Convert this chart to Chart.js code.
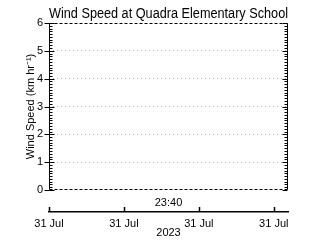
<!DOCTYPE html>
<html>
<head>
<meta charset="utf-8">
<script src="https://cdn.jsdelivr.net/npm/chart.js@4"></script>
<style>
  html, body { margin: 0; padding: 0; background: #fff; }
  #wrap { width: 320px; height: 240px; }
</style>
</head>
<body>
<div id="wrap"><canvas id="grafico"></canvas></div>
<script>
// ===== dados =====
const titulo = 'Wind Speed at Quadra Elementary School';
const tituloY = 'Wind Speed (km hr\u207B\u00B9)';
const yTicks = [0, 1, 2, 3, 4, 5, 6];
const horaTicks = ['23:40'];
const dataTicks = ['31 Jul', '31 Jul', '31 Jul', '31 Jul'];
const ano = '2023';
const velocidade = []; // sem dados no periodo

const fonte = "'Liberation Sans', Arial, sans-serif";

// ===== bordas tracejadas + ticks menores / maiores =====
const ticksPlugin = {
  id: 'ticksExtra',
  afterDraw(chart) {
    const c = chart.ctx;
    const y = chart.scales.y, x2 = chart.scales.x2;
    const area = chart.chartArea;
    const esq = Math.round(area.left) + 0.5, dir = Math.round(area.right) - 0.5;
    const topo = Math.round(area.top) + 0.5, base = Math.round(area.bottom) - 0.5;
    c.save();
    c.strokeStyle = '#000';
    c.lineWidth = 1;

    // topo e base tracejados
    c.setLineDash([3, 2]);
    c.beginPath();
    c.moveTo(esq, topo); c.lineTo(dir, topo);
    c.moveTo(esq, base); c.lineTo(dir, base);
    c.stroke();
    c.setLineDash([]);

    // laterais solidas com ticks
    c.beginPath();
    c.moveTo(esq, topo); c.lineTo(esq, base);
    c.moveTo(dir, topo); c.lineTo(dir, base);
    for (let i = 0; i <= 60; i++) {
      const py = Math.round(y.getPixelForValue(i / 10)) + 0.5;
      const maior = i % 10 === 0;
      c.moveTo(esq - (maior ? 5 : 0), py);
      c.lineTo(esq + (maior ? 5 : 3), py);
      c.moveTo(dir - (maior ? 5 : 3), py);
      c.lineTo(dir, py);
    }
    c.stroke();

    // ticks do eixo de datas
    c.lineWidth = 1.5;
    c.beginPath();
    dataTicks.forEach((_, i) => {
      const px = Math.round(x2.getPixelForValue(i)) + 0.5;
      c.moveTo(px, x2.top);
      c.lineTo(px, x2.top - 5);
    });
    c.stroke();
    c.restore();
  }
};

const ctx = document.getElementById('grafico');

new Chart(ctx, {
  type: 'scatter',
  data: {
    datasets: [{
      data: velocidade,
      xAxisID: 'x',
      yAxisID: 'y',
      borderColor: '#000',
      pointRadius: 0
    }]
  },
  plugins: [ticksPlugin],
  options: {
    responsive: true,
    maintainAspectRatio: false,
    animation: false,
    layout: { padding: 0 },
    plugins: {
      legend: { display: false },
      tooltip: { enabled: false },
      title: {
        display: true,
        fullSize: false,
        text: titulo,
        color: '#000',
        font: { family: fonte, size: 14, weight: 'normal' },
        padding: { top: 5.6, bottom: 0.6 }
      }
    },
    scales: {
      y: {
        position: 'left',
        min: 0,
        max: 6,
        afterFit: s => { s.width = 49; },
        afterBuildTicks: s => { s.ticks = yTicks.map(v => ({ value: v })); },
        ticks: {
          color: '#000',
          padding: 6,
          font: { family: fonte, size: 11 }
        },
        grid: {
          drawTicks: false,
          color: c => (c.tick && (c.tick.value === 0 || c.tick.value === 6)) ? 'rgba(0,0,0,0)' : '#b4b4b4',
          lineWidth: 1
        },
        border: { display: false, dash: [1, 3] },
        title: {
          display: true,
          text: tituloY,
          color: '#000',
          font: { family: fonte, size: 11 },
          padding: { top: 24, bottom: 0 }
        }
      },
      y2: {
        position: 'right',
        min: 0,
        max: 6,
        afterFit: s => { s.width = 32; },
        ticks: { display: false },
        grid: { display: false, drawTicks: false },
        border: { display: false }
      },
      x: {
        type: 'linear',
        position: 'bottom',
        min: 0,
        max: 1,
        afterFit: s => { s.height = 22; },
        afterBuildTicks: s => { s.ticks = horaTicks.map(() => ({ value: 0.5 })); },
        ticks: {
          color: '#000',
          padding: 6,
          maxRotation: 0,
          autoSkip: false,
          font: { family: fonte, size: 11 },
          callback: (v, i) => horaTicks[i]
        },
        grid: { display: false, drawTicks: false },
        border: { display: false }
      },
      x2: {
        type: 'linear',
        position: 'bottom',
        min: 0,
        max: 3.19,
        afterFit: s => { s.height = 28; },
        afterBuildTicks: s => { s.ticks = dataTicks.map((_, i) => ({ value: i })); },
        ticks: {
          color: '#000',
          padding: 5,
          maxRotation: 0,
          autoSkip: false,
          font: { family: fonte, size: 11 },
          callback: (v, i) => dataTicks[i]
        },
        grid: { drawOnChartArea: false, drawTicks: false },
        border: { display: true, color: '#000', width: 1.5 },
        title: {
          display: true,
          text: ano,
          color: '#000',
          font: { family: fonte, size: 11 },
          padding: { top: -2, bottom: 0 }
        }
      }
    }
  }
});
</script>
</body>
</html>
